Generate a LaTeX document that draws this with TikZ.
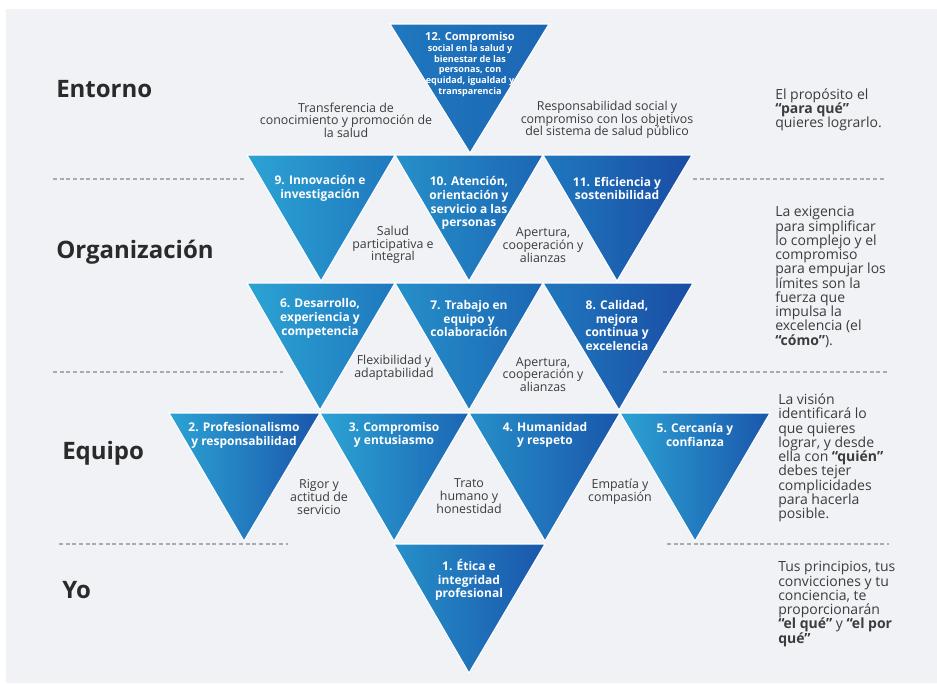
\documentclass[tikz,border=0pt]{standalone}
\usepackage{fontspec}
\setmainfont{Open Sans}
\usepackage{tikz}

\definecolor{panel}{HTML}{F0F2F5}
\definecolor{ink}{HTML}{3C3C3C}
\definecolor{levelink}{HTML}{2A2A2A}
\definecolor{guide}{HTML}{A8ABB0}
% blues of the triangles, light to dark
\definecolor{blueA}{HTML}{2CA3D4}
\definecolor{blueB}{HTML}{2690C9}
\definecolor{blueC}{HTML}{1F78BE}
\definecolor{blueD}{HTML}{1C66B4}
\definecolor{blueE}{HTML}{1A56AB}
\definecolor{blueF}{HTML}{1A4CA4}

\tikzset{
  tri/.style 2 args={left color=#1, right color=#2, draw=white, line width=0.8},
  trilabel/.style={inner sep=0.75pt, text=white, align=center, font=\fontsize{9}{10.3}\selectfont\bfseries},
  gaptext/.style={inner sep=0.75pt, text=ink, align=center, font=\fontsize{9.3}{9.5}\selectfont},
  sidenote/.style={anchor=west, inner sep=0.75pt, text=ink, align=left, font=\fontsize{10.5}{10.7}\selectfont},
  level/.style={anchor=west, inner sep=0.75pt, text=levelink, font=\fontsize{18}{20}\selectfont\bfseries},
  guideline/.style={draw=guide, line width=1, dash pattern={on 3pt off 2pt}},
}

\begin{document}
\begin{tikzpicture}[x=0.75pt,y=0.75pt,yscale=-1,xscale=1]
\useasboundingbox (0,0) rectangle (937,683);

%Shape: Rectangle
\fill [panel] (6,9) rectangle (937,683);

%Straight Lines
\draw [guideline] (53,179) -- (245,179) ;
\draw [guideline] (693,179) -- (886,179) ;
\draw [guideline] (53,372) -- (283,372) ;
\draw [guideline] (663,372) -- (887,372) ;
\draw [guideline] (59,544) -- (288,544) ;
\draw [guideline] (667,544) -- (889,544) ;

%Shape: Triangle
\draw [tri={blueC}{blueD}] (390,24) -- (549,24) -- (470,153) -- cycle ;
%Shape: Triangle
\draw [tri={blueA}{blueC}] (247,155) -- (395,155) -- (321,281) -- cycle ;
%Shape: Triangle
\draw [tri={blueB}{blueD}] (395,155) -- (543,155) -- (469,281) -- cycle ;
%Shape: Triangle
\draw [tri={blueC}{blueF}] (543,155) -- (692,155) -- (617,281) -- cycle ;
%Shape: Triangle
\draw [tri={blueA}{blueC}] (247,283) -- (395,283) -- (320,410) -- cycle ;
%Shape: Triangle
\draw [tri={blueB}{blueD}] (395,283) -- (543,283) -- (469,410) -- cycle ;
%Shape: Triangle
\draw [tri={blueC}{blueF}] (543,283) -- (693,283) -- (619,410) -- cycle ;
%Shape: Triangle
\draw [tri={blueA}{blueE}] (169,413) -- (320,413) -- (244,541) -- cycle ;
%Shape: Triangle
\draw [tri={blueA}{blueD}] (320,413) -- (469,413) -- (394,541) -- cycle ;
%Shape: Triangle
\draw [tri={blueB}{blueE}] (469,413) -- (620,413) -- (545,541) -- cycle ;
%Shape: Triangle
\draw [tri={blueA}{blueE}] (620,413) -- (770,413) -- (695,541) -- cycle ;
%Shape: Triangle
\draw [tri={blueB}{blueE}] (394,544) -- (545,544) -- (469,673) -- cycle ;

% Text Node
\draw (470,38) node [trilabel, font=\fontsize{8.3}{9}\selectfont\bfseries] (t12) {12. Compromiso};
% Text Node
\draw (470,70.5) node [trilabel, font=\fontsize{6.8}{8.1}\selectfont\bfseries] (t12b) {social en la salud y\\bienestar de las\\personas, con\\equidad, igualdad y\\transparencia};
% Text Node
\draw (320,188.5) node [trilabel] (t9) {9. Innovación e\\investigación};
% Text Node
\draw (469,203) node [trilabel] (t10) {10. Atención,\\orientación y\\servicio a las\\personas};
% Text Node
\draw (617,188.5) node [trilabel] (t11) {11. Eficiencia y\\sostenibilidad};
% Text Node
\draw (320,318.5) node [trilabel] (t6) {6. Desarrollo,\\experiencia y\\competencia};
% Text Node
\draw (469,318.5) node [trilabel] (t7) {7. Trabajo en\\equipo y\\colaboración};
% Text Node
\draw (617,325.5) node [trilabel] (t8) {8. Calidad,\\mejora\\continua y\\excelencia};
% Text Node
\draw (244,435) node [trilabel] (t2) {2. Profesionalismo\\y responsabilidad};
% Text Node
\draw (394,435) node [trilabel] (t3) {3. Compromiso\\y entusiasmo};
% Text Node
\draw (545,435) node [trilabel] (t4) {4. Humanidad\\y respeto};
% Text Node
\draw (695,435) node [trilabel] (t5) {5. Cercanía y\\confianza};
% Text Node
\draw (469,580) node [trilabel] (t1) {1. Ética e\\integridad\\profesional};

% Text Node
\draw (346,120) node [gaptext] (g12l) {Transferencia de\\conocimiento y promoción de\\la salud};
% Text Node
\draw (607,120) node [gaptext] (g12r) {Responsabilidad social y\\compromiso con los objetivos\\del sistema de salud público};
% Text Node
\draw (393,245) node [gaptext] (g910) {Salud\\participativa e\\integral};
% Text Node
\draw (543,245) node [gaptext] (g1011) {Apertura,\\cooperación y\\alianzas};
% Text Node
\draw (394,368) node [gaptext] (g67) {Flexibilidad y\\adaptabilidad};
% Text Node
\draw (543,374.5) node [gaptext] (g78) {Apertura,\\cooperación y\\alianzas};
% Text Node
\draw (319,497) node [gaptext] (g23) {Rigor y\\actitud de\\servicio};
% Text Node
\draw (469,496) node [gaptext] (g34) {Trato\\humano y\\honestidad};
% Text Node
\draw (620,492) node [gaptext] (g45) {Empatía y\\compasión};

% Text Node
\draw (55,89) node [level] (entorno) {Entorno};
% Text Node
\draw (55,252) node [level] (organizacion) {Organización};
% Text Node
\draw (61,453) node [level] (equipo) {Equipo};
% Text Node
\draw (61,590) node [level] (yo) {Yo};

% Text Node
\draw (774,110) node [sidenote] (proposito) {El propósito el\\\textbf{“para qué”}\\quieres lograrlo.};
% Text Node
\draw (774,277) node [sidenote] (exigencia) {La exigencia\\para simplificar\\lo complejo y el\\compromiso\\para empujar los\\límites son la\\fuerza que\\impulsa la\\excelencia (el\\\textbf{“cómo”}).};
% Text Node
\draw (777,458) node [sidenote] (vision) {La visión\\identificará lo\\que quieres\\lograr, y desde\\ella con \textbf{“quién”}\\debes tejer\\complicidades\\para hacerla\\posible.};
% Text Node
\draw (777,604) node [sidenote] (principios) {Tus principios, tus\\convicciones y tu\\conciencia, te\\proporcionarán\\\textbf{“el qué”} y \textbf{“el por}\\\textbf{qué”}};

\end{tikzpicture}
\end{document}
